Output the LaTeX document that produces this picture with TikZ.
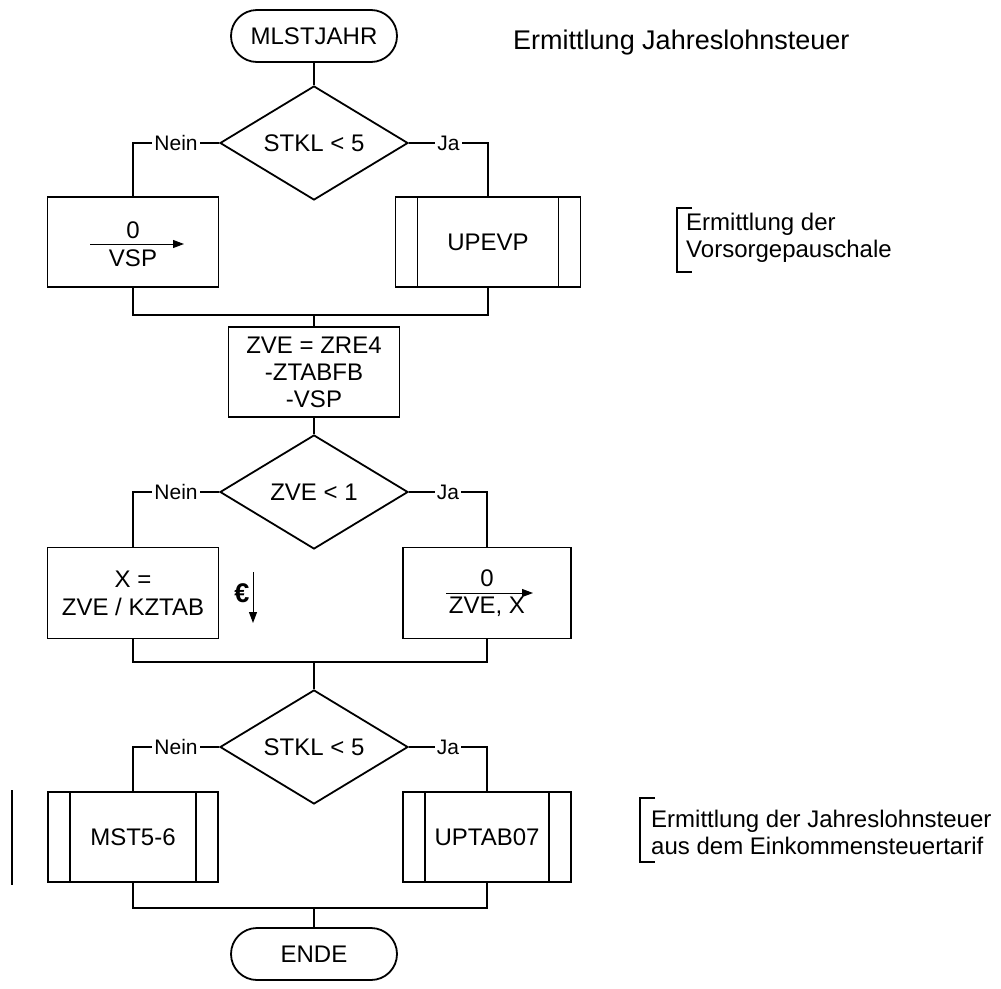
\documentclass[tikz,border=0pt]{standalone}
\usepackage{fontspec}
\setmainfont{Liberation Sans}
\usetikzlibrary{shapes.geometric,arrows.meta}

\begin{document}
\begin{tikzpicture}[x=1pt,y=-1pt,line width=1.8pt,
  every node/.style={font=\fontsize{24}{27}\selectfont},
  terminal/.style={draw,rectangle,rounded corners=26pt,minimum width=166pt,minimum height=52pt},
  decision/.style={draw,diamond,aspect=1.65,minimum width=188pt,minimum height=114pt,inner sep=0pt},
  process/.style={draw,rectangle,minimum width=171pt,minimum height=90pt,align=center},
  subproc/.style={process,path picture={
    \draw[line width=1.8pt] ([xshift=22pt]path picture bounding box.north west) -- ([xshift=22pt]path picture bounding box.south west);
    \draw[line width=1.8pt] ([xshift=-22pt]path picture bounding box.north east) -- ([xshift=-22pt]path picture bounding box.south east);}},
  branch/.style={fill=white,inner sep=2pt,font=\fontsize{21}{24}\selectfont},
  flow/.style={line width=1pt,-{Triangle[length=11pt,width=8pt]}},
  note/.style={anchor=west,align=left}]
\useasboundingbox (0,0) rectangle (1001,988);

% first decision
\node[terminal] (start) at (314,36) {MLSTJAHR};
\node[decision] (d1) at (314,143) {STKL < 5};
\node[process] (vspbox) at (133,242) {};
\node (vspnull) at (133,230) {0};
\node (vspname) at (133,258) {VSP};
\draw[flow] (90,244) -- (184,244);
\node[subproc,minimum width=185pt] (upevp) at (488,242) {UPEVP};
\coordinate (m1) at (314,315);

\draw (start) -- (d1);
\draw (d1.west) -| node[branch,pos=0.25] {Nein} (vspbox.north);
\draw (d1.east) -| node[branch,pos=0.25] {Ja} (upevp.north);
\draw (vspbox.south) |- (m1) -| (upevp.south);

% second decision
\node[process] (zve) at (314,372) {ZVE = ZRE4\\-ZTABFB\\-VSP};
\node[decision] (d2) at (314,492) {ZVE < 1};
\node[process,minimum height=91pt,font=\fontsize{24}{28}\selectfont] (xbox) at (133,593) {X =\\ZVE / KZTAB};
\node (eur) at (242,593) {\textbf{\fontsize{27}{27}\selectfont €}};
\draw[flow] (253,572) -- (253,623);
\node[process,minimum width=168pt,minimum height=91pt] (nullbox) at (487,593) {};
\node (zvenull) at (487,578) {0};
\node (zvename) at (487,607) {ZVE, X};
\draw[flow] (446,593) -- (533,593);
\coordinate (m2) at (314,662);

\draw (m1) -- (zve);
\draw (zve) -- (d2);
\draw (d2.west) -| node[branch,pos=0.25] {Nein} (xbox.north);
\draw (d2.east) -| node[branch,pos=0.25] {Ja} (nullbox.north);
\draw (xbox.south) |- (m2) -| (nullbox.south);

% third decision
\node[decision] (d3) at (314,747) {STKL < 5};
\node[subproc,minimum width=170pt] (mst) at (133,837) {MST5-6};
\node[subproc,minimum width=168pt] (uptab) at (487,837) {UPTAB07};
\coordinate (m3) at (314,908);
\node[terminal] (ende) at (314,954) {ENDE};

\draw (m2) -- (d3);
\draw (d3.west) -| node[branch,pos=0.25] {Nein} (mst.north);
\draw (d3.east) -| node[branch,pos=0.25] {Ja} (uptab.north);
\draw (mst.south) |- (m3) -| (uptab.south);
\draw (m3) -- (ende);
\draw (12,790) -- (12,885);

% notes
\node[note,font=\fontsize{27}{30}\selectfont] (n1) at (509,43) {Ermittlung Jahreslohnsteuer};
\draw (692,208) -- (677,208) -- (677,272) -- (692,272);
\node[note] (n2) at (682,238) {Ermittlung der\\Vorsorgepauschale};
\draw (655,798) -- (640,798) -- (640,862) -- (655,862);
\node[note] (n3) at (647,832) {Ermittlung der Jahreslohnsteuer\\aus dem Einkommensteuertarif};
\end{tikzpicture}
\end{document}
